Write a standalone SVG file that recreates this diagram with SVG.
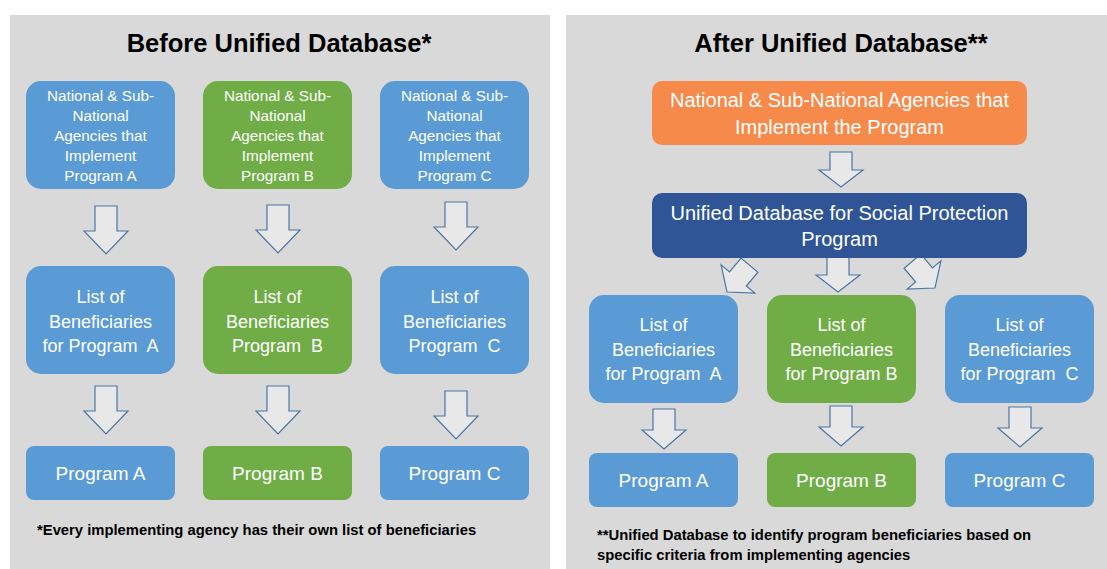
<svg xmlns="http://www.w3.org/2000/svg" width="1107" height="569" viewBox="0 0 1107 569">
<style>
.panel{fill:#d9d9d9}
.blue{fill:#5b9bd5}
.green{fill:#70ad47}
.orange{fill:#f58a4b}
.navy{fill:#2f5597}
.t{font-family:"Liberation Sans",Arial,sans-serif;fill:#ffffff;text-anchor:middle}
.s15{font-size:15.3px}
.s18{font-size:18px}
.s19{font-size:19px}
.s20{font-size:20px}
.title{font-family:"Liberation Sans",Arial,sans-serif;font-weight:bold;font-size:25.5px;fill:#000;text-anchor:middle}
.note{font-family:"Liberation Sans",Arial,sans-serif;font-weight:bold;font-size:14.8px;fill:#000}
.arrow{fill:#e8e8e8;stroke:#4a76a8;stroke-width:1.2;stroke-linejoin:miter}
</style>
<defs>
<path id="arL" d="M-11,-48 H11 V-23 H22 L0,0 L-22,-23 H-11 Z"/>
<path id="arS" d="M-11,-35 H11 V-17 H22 L0,0 L-22,-17 H-11 Z"/>
<path id="arM" d="M-11,-40 H11 V-19 H22 L0,0 L-22,-19 H-11 Z"/>
</defs>
<rect width="1107" height="569" fill="#ffffff"/>
<rect class="panel" x="10" y="15" width="540" height="554"/>
<rect class="panel" x="566" y="15" width="541" height="554"/>

<text class="title" x="279" y="52">Before Unified Database*</text>
<text class="title" x="841" y="52">After Unified Database**</text>

<g id="connectors">
<use href="#arL" class="arrow" transform="translate(106,254)"/>
<use href="#arL" class="arrow" transform="translate(278,253)"/>
<use href="#arL" class="arrow" transform="translate(456,250)"/>
<use href="#arL" class="arrow" transform="translate(106,434)"/>
<use href="#arL" class="arrow" transform="translate(278,434)"/>
<use href="#arL" class="arrow" transform="translate(456,439)"/>
<use href="#arS" class="arrow" transform="translate(841,187)"/>
<use href="#arS" class="arrow" transform="translate(838,292)"/>
<use href="#arS" class="arrow" transform="translate(727,292) rotate(40)"/>
<use href="#arS" class="arrow" transform="translate(935,288) rotate(-40)"/>
<use href="#arM" class="arrow" transform="translate(664,449)"/>
<use href="#arM" class="arrow" transform="translate(841,446)"/>
<use href="#arM" class="arrow" transform="translate(1020,447)"/>
</g>

<g id="before-agency-a">
<rect class="blue" x="26" y="81" width="149" height="108" rx="15"/>
<text class="t s15"><tspan x="100.5" y="101">National &amp; Sub-</tspan><tspan x="100.5" y="121">National</tspan><tspan x="100.5" y="141">Agencies that</tspan><tspan x="100.5" y="161">Implement</tspan><tspan x="100.5" y="181">Program A</tspan></text>
</g>
<g id="before-agency-b">
<rect class="green" x="203" y="81" width="149" height="108" rx="15"/>
<text class="t s15"><tspan x="277.5" y="101">National &amp; Sub-</tspan><tspan x="277.5" y="121">National</tspan><tspan x="277.5" y="141">Agencies that</tspan><tspan x="277.5" y="161">Implement</tspan><tspan x="277.5" y="181">Program B</tspan></text>
</g>
<g id="before-agency-c">
<rect class="blue" x="380" y="81" width="149" height="108" rx="15"/>
<text class="t s15"><tspan x="454.5" y="101">National &amp; Sub-</tspan><tspan x="454.5" y="121">National</tspan><tspan x="454.5" y="141">Agencies that</tspan><tspan x="454.5" y="161">Implement</tspan><tspan x="454.5" y="181">Program C</tspan></text>
</g>

<g id="before-list-a">
<rect class="blue" x="26" y="266" width="149" height="108" rx="15"/>
<text class="t s18"><tspan x="100.5" y="303">List of</tspan><tspan x="100.5" y="328">Beneficiaries</tspan><tspan x="100.5" y="352">for Program&#160; A</tspan></text>
</g>
<g id="before-list-b">
<rect class="green" x="203" y="266" width="149" height="108" rx="15"/>
<text class="t s18"><tspan x="277.5" y="303">List of</tspan><tspan x="277.5" y="328">Beneficiaries</tspan><tspan x="277.5" y="352">Program&#160; B</tspan></text>
</g>
<g id="before-list-c">
<rect class="blue" x="380" y="266" width="149" height="108" rx="15"/>
<text class="t s18"><tspan x="454.5" y="303">List of</tspan><tspan x="454.5" y="328">Beneficiaries</tspan><tspan x="454.5" y="352">Program&#160; C</tspan></text>
</g>

<g id="before-program-a">
<rect class="blue" x="26" y="446" width="149" height="54" rx="8"/>
<text class="t s19" x="100.5" y="480">Program A</text>
</g>
<g id="before-program-b">
<rect class="green" x="203" y="446" width="149" height="54" rx="8"/>
<text class="t s19" x="277.5" y="480">Program B</text>
</g>
<g id="before-program-c">
<rect class="blue" x="380" y="446" width="149" height="54" rx="8"/>
<text class="t s19" x="454.5" y="480">Program C</text>
</g>

<text class="note" x="37" y="535">*Every implementing agency has their own list of beneficiaries</text>

<g id="after-agencies">
<rect class="orange" x="652" y="81" width="375" height="64" rx="10"/>
<text class="t s20"><tspan x="839.5" y="107">National &amp; Sub-National Agencies that</tspan><tspan x="839.5" y="134">Implement the Program</tspan></text>
</g>
<g id="after-database">
<rect class="navy" x="652" y="193" width="375" height="65" rx="10"/>
<text class="t s20"><tspan x="839.5" y="220">Unified Database for Social Protection</tspan><tspan x="839.5" y="246">Program</tspan></text>
</g>

<g id="after-list-a">
<rect class="blue" x="589" y="295" width="149" height="108" rx="15"/>
<text class="t s18"><tspan x="663.5" y="331">List of</tspan><tspan x="663.5" y="356">Beneficiaries</tspan><tspan x="663.5" y="380">for Program&#160; A</tspan></text>
</g>
<g id="after-list-b">
<rect class="green" x="767" y="295" width="149" height="108" rx="15"/>
<text class="t s18"><tspan x="841.5" y="331">List of</tspan><tspan x="841.5" y="356">Beneficiaries</tspan><tspan x="841.5" y="380">for Program B</tspan></text>
</g>
<g id="after-list-c">
<rect class="blue" x="945" y="295" width="149" height="108" rx="15"/>
<text class="t s18"><tspan x="1019.5" y="331">List of</tspan><tspan x="1019.5" y="356">Beneficiaries</tspan><tspan x="1019.5" y="380">for Program&#160; C</tspan></text>
</g>

<g id="after-program-a">
<rect class="blue" x="589" y="453" width="149" height="54" rx="8"/>
<text class="t s19" x="663.5" y="487">Program A</text>
</g>
<g id="after-program-b">
<rect class="green" x="767" y="453" width="149" height="54" rx="8"/>
<text class="t s19" x="841.5" y="487">Program B</text>
</g>
<g id="after-program-c">
<rect class="blue" x="945" y="453" width="149" height="54" rx="8"/>
<text class="t s19" x="1019.5" y="487">Program C</text>
</g>

<text class="note"><tspan x="597" y="540">**Unified Database to identify program beneficiaries based on</tspan><tspan x="597" y="560">specific criteria from implementing agencies</tspan></text>
</svg>
